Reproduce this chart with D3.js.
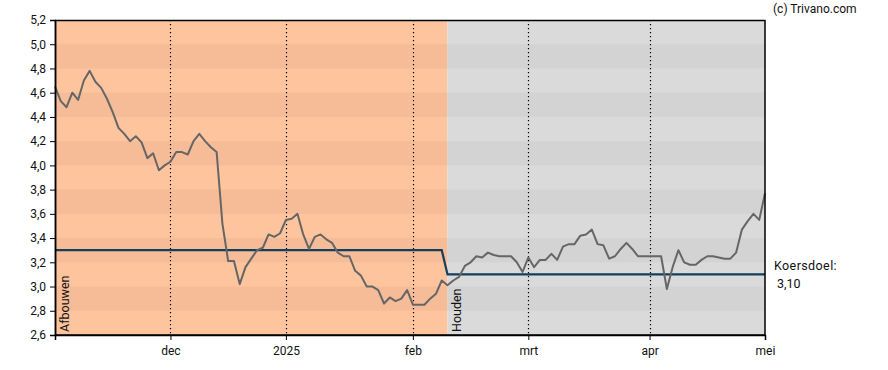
<!DOCTYPE html>
<html>
<head>
<meta charset="utf-8">
<script src="https://cdn.jsdelivr.net/npm/d3@7"></script>
<style>
  html, body { margin: 0; padding: 0; background: #fff; }
  svg { display: block; font-family: Roboto, "Liberation Sans", sans-serif; }
</style>
</head>
<body>
<div id="chart"></div>
<script>
// ---- Data (trading-day index 0 = early Nov 2024, 123 = 1 May 2025) ----
const prices = [
  4.65, 4.53, 4.48, 4.60, 4.54, 4.70, 4.78, 4.69, 4.64, 4.55,
  4.44, 4.31, 4.26, 4.20, 4.24, 4.19, 4.06, 4.10, 3.96, 4.00,
  4.03, 4.11, 4.11, 4.09, 4.20, 4.26, 4.20, 4.15, 4.11, 3.52,
  3.21, 3.21, 3.02, 3.16, 3.23, 3.30, 3.32, 3.43, 3.41, 3.44,
  3.55, 3.56, 3.60, 3.43, 3.31, 3.41, 3.43, 3.39, 3.36, 3.28,
  3.25, 3.25, 3.13, 3.09, 3.00, 3.00, 2.97, 2.86, 2.91, 2.88,
  2.90, 2.97, 2.85, 2.85, 2.85, 2.90, 2.94, 3.05, 3.01, 3.05,
  3.08, 3.17, 3.20, 3.25, 3.24, 3.28, 3.26, 3.25, 3.25, 3.25,
  3.20, 3.12, 3.24, 3.16, 3.22, 3.22, 3.27, 3.22, 3.33, 3.35,
  3.35, 3.42, 3.43, 3.47, 3.35, 3.34, 3.23, 3.25, 3.31, 3.36,
  3.31, 3.25, 3.25, 3.25, 3.25, 3.25, 2.98, 3.16, 3.30, 3.20,
  3.18, 3.18, 3.22, 3.25, 3.25, 3.24, 3.23, 3.23, 3.28, 3.47,
  3.54, 3.60, 3.55, 3.77
];
const targetSteps = [
  { from: 0, to: 67, value: 3.30 },
  { from: 68, to: 123, value: 3.10 }
];
const phases = [
  { label: "Afbouwen", from: 0, to: 68, base: "#fec49e", band: "#f5bc97" },
  { label: "Houden", from: 68, to: 123, base: "#dadada", band: "#d3d3d3" }
];
const xTickLabels = ["dec", "2025", "feb", "mrt", "apr", "mei"];
const xTickIndex = [20, 40, 62, 82, 103, 123];
const yTicks = [2.6, 2.8, 3.0, 3.2, 3.4, 3.6, 3.8, 4.0, 4.2, 4.4, 4.6, 4.8, 5.0, 5.2];
const targetLabel = "Koersdoel:";
const targetValueLabel = "3,10";
const credit = "(c) Trivano.com";

// ---- Layout ----
const W = 888, H = 370;
const m = { left: 55, right: 123, top: 20, bottom: 35 };
const x = d3.scaleLinear().domain([0, prices.length - 1]).range([m.left, W - m.right]);
const y = d3.scaleLinear().domain([2.6, 5.2]).range([H - m.bottom, m.top]);
const fmt = v => d3.format(".1f")(v).replace(".", ",");

const svg = d3.select("#chart").append("svg").attr("width", W).attr("height", H);

// Phase backgrounds with alternating bands
const bandPairs = [];
for (let i = 0; i < yTicks.length - 1; i++) {
  if (i % 2 === 1) bandPairs.push([yTicks[i], yTicks[i + 1]]);
}
phases.forEach(p => {
  const g = svg.append("g");
  g.append("rect")
    .attr("x", x(p.from)).attr("y", y(5.2))
    .attr("width", x(p.to) - x(p.from)).attr("height", y(2.6) - y(5.2))
    .attr("fill", p.base);
  g.selectAll("rect.band").data(bandPairs).enter().append("rect")
    .attr("class", "band")
    .attr("x", x(p.from)).attr("width", x(p.to) - x(p.from))
    .attr("y", d => y(d[1])).attr("height", d => y(d[0]) - y(d[1]))
    .attr("fill", p.band);
});

// Dotted vertical gridlines
svg.append("g").selectAll("line").data(xTickIndex.slice(0, -1)).enter().append("line")
  .attr("x1", d => Math.round(x(d)) + 0.5).attr("x2", d => Math.round(x(d)) + 0.5)
  .attr("y1", y(5.2)).attr("y2", y(2.6))
  .attr("stroke", "#000").attr("stroke-width", 1.2)
  .attr("stroke-dasharray", "1.2,2.8");

// Phase labels
phases.forEach(p => {
  svg.append("text")
    .attr("transform", `translate(${x(p.from) + 13.5},${y(2.6) - 3}) rotate(-90)`)
    .attr("font-size", 12.5).attr("fill", "#111")
    .text(p.label);
});

// Target line
const targetPts = [];
targetSteps.forEach(s => { targetPts.push([s.from, s.value]); targetPts.push([s.to, s.value]); });
svg.append("path")
  .datum(targetPts)
  .attr("d", d3.line().x(d => x(d[0])).y(d => y(d[1])))
  .attr("fill", "none").attr("stroke", "#143e5e").attr("stroke-width", 2.2);

// Price line
svg.append("path")
  .datum(prices)
  .attr("d", d3.line().x((d, i) => x(i)).y(d => y(d)))
  .attr("fill", "none").attr("stroke", "#666").attr("stroke-width", 2)
  .attr("stroke-linejoin", "round");

// Frame
svg.append("rect")
  .attr("x", m.left + 0.5).attr("y", m.top + 0.5)
  .attr("width", x(123) - m.left - 0.5).attr("height", y(2.6) - m.top - 0.5)
  .attr("fill", "none").attr("stroke", "#000").attr("stroke-width", 1.5);

// Y axis
const yAxis = svg.append("g").attr("transform", `translate(${m.left},0)`)
  .call(d3.axisLeft(y).tickValues(yTicks).tickFormat(fmt).tickSize(5).tickPadding(4));
yAxis.select(".domain").attr("stroke", "#000").attr("stroke-width", 1.5);
yAxis.selectAll("text").attr("font-size", 12).attr("fill", "#111").attr("font-family", "Roboto, sans-serif");

// X axis
const xAxis = svg.append("g").attr("transform", `translate(0,${y(2.6)})`)
  .call(d3.axisBottom(x).tickValues(xTickIndex).tickFormat((d, i) => xTickLabels[i]).tickSize(5).tickPadding(6));
xAxis.select(".domain").attr("stroke", "#000").attr("stroke-width", 1.5);
xAxis.selectAll("text").attr("font-size", 12).attr("fill", "#111").attr("font-family", "Roboto, sans-serif");

// Right labels
svg.append("text").attr("x", 774).attr("y", 270).attr("font-size", 12.5)
  .attr("fill", "#111").attr("letter-spacing", 0.4).text(targetLabel);
svg.append("text").attr("x", 777).attr("y", 288).attr("font-size", 12.5)
  .attr("fill", "#111").text(targetValueLabel);
svg.append("text").attr("x", 773).attr("y", 13).attr("font-size", 12)
  .attr("fill", "#111").text(credit);
</script>
</body>
</html>
